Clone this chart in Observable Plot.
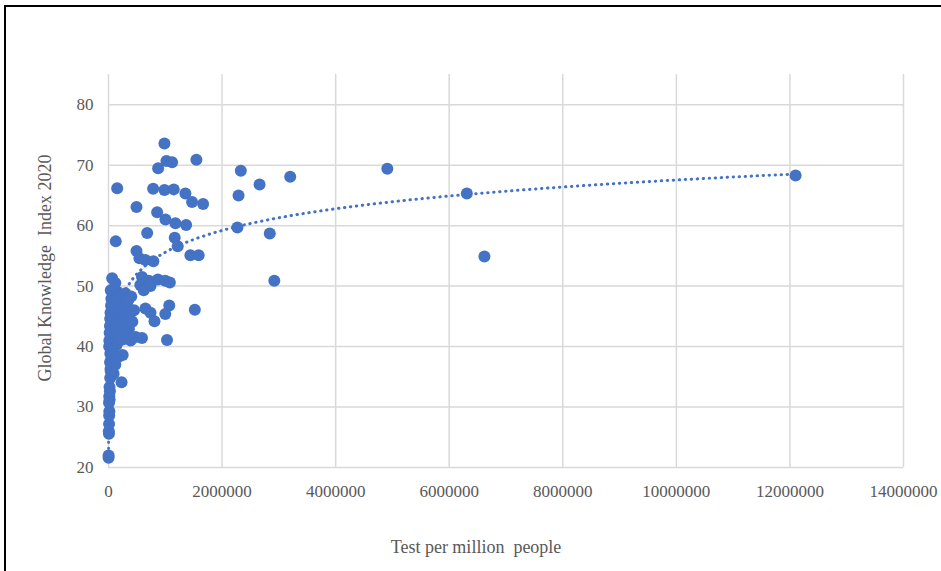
<!DOCTYPE html>
<html><head><meta charset="utf-8">
<script src="https://cdn.jsdelivr.net/npm/d3@7"></script>
<script src="https://cdn.jsdelivr.net/npm/@observablehq/plot@0.6"></script>
<style>
html,body{margin:0;padding:0;background:#fff;overflow:hidden;}
#wrap{position:relative;width:941px;height:571px;}
#frame{position:absolute;left:4px;top:5px;width:1000px;height:1000px;border-top:2px solid #000;border-left:2px solid #000;pointer-events:none;}
</style></head><body>
<div id="wrap"><div id="chart"></div><div id="frame"></div></div>
<script>
// Tests per million people (x) and Global Knowledge Index 2020 (y), one entry per country
const testsPerMillion = [
  12100000, 6310000, 6620000, 4910000, 3200000, 2660000, 2330000, 2290000, 2270000, 2840000, 2920000,
  1548000, 985000, 1020000, 1120000, 874000, 153000, 786000, 985000, 1149000, 1354000, 1472000, 1666000,
  493000, 857000, 1003000, 1179000, 1367000, 681000, 1166000, 1219000, 128000, 493000, 1442000, 1588000,
  545000, 650000, 790000,
  65000, 120000, 590000, 710000, 870000, 1000000, 1080000, 560000, 740000, 620000,
  650000, 740000, 810000, 1070000, 1000000, 1520000, 1030000, 590000, 390000,
  40000, 80000, 150000, 220000, 300000, 400000,
  50000, 110000, 190000, 270000, 350000,
  45000, 70000, 140000, 240000, 330000, 450000,
  35000, 100000, 170000, 260000, 380000,
  30000, 60000, 130000, 210000, 310000, 420000,
  25000, 90000, 160000, 280000, 360000,
  20000, 50000, 120000, 200000, 320000, 480000,
  15000, 100000, 180000, 260000,
  12000, 75000, 140000,
  1300, 1600, 8000, 6000, 10000, 12000, 15000, 9000, 20000, 14000, 25000, 18000,
  230000, 30000, 90000, 40000, 35000, 120000, 28000, 45000, 180000, 32000, 55000, 250000
];
const gkiIndex = [
  68.3, 65.3, 54.9, 69.4, 68.1, 66.8, 69.1, 65.0, 59.7, 58.7, 50.9,
  70.9, 73.6, 70.7, 70.5, 69.5, 66.2, 66.1, 65.9, 66.0, 65.3, 63.9, 63.6,
  63.1, 62.2, 61.0, 60.4, 60.1, 58.8, 58.0, 56.6, 57.4, 55.8, 55.1, 55.1,
  54.6, 54.3, 54.1,
  51.3, 50.5, 51.5, 50.9, 51.1, 50.9, 50.6, 50.2, 50.0, 49.3,
  46.3, 45.6, 44.2, 46.8, 45.4, 46.1, 41.1, 41.4, 41.0,
  49.3, 48.9, 49.1, 48.6, 48.8, 48.3,
  47.9, 47.6, 47.8, 47.3, 47.7,
  46.8, 46.5, 46.9, 46.2, 46.6, 46.0,
  45.6, 45.3, 45.7, 45.0, 45.4,
  44.6, 44.2, 44.5, 44.0, 44.3, 44.1,
  43.4, 43.1, 43.6, 43.0, 42.9,
  42.3, 42.0, 42.4, 41.8, 42.2, 41.6,
  41.0, 40.7, 40.9, 41.2,
  40.0, 39.7, 40.2,
  21.6, 22.0, 25.6, 26.0, 27.2, 28.6, 29.3, 30.7, 31.2, 31.8, 32.6, 33.3,
  34.1, 34.8, 35.5, 35.9, 36.3, 37.0, 37.4, 37.8, 38.3, 38.8, 39.2, 38.6
];
const xTicks = [0, 2000000, 4000000, 6000000, 8000000, 10000000, 12000000, 14000000];
const yTicks = [20, 30, 40, 50, 60, 70, 80];
const xTitle = "Test per million\u00a0 people";
const yTitle = "Global Knowledge\u00a0 Index 2020";

const points = testsPerMillion.map((x, i) => ({x, y: gkiIndex[i]}));

// Logarithmic trendline (least squares of y on ln x), as the spreadsheet computes it
const lx = points.map(p => Math.log(p.x));
const mx = d3.mean(lx), my = d3.mean(points, p => p.y);
const b = d3.sum(points, (p, i) => (lx[i] - mx) * (p.y - my)) / d3.sum(lx, v => (v - mx) ** 2);
const a = my - b * mx;
const xMin = d3.min(testsPerMillion), xMax = d3.max(testsPerMillion);
const trend = d3.range(400).map(k => {
  const x = xMin * Math.pow(xMax / xMin, k / 399);
  return {x, y: a + b * Math.log(x)};
});

const blue = "#4472C4";
const grid = "#d9d9d9";
const chart = Plot.plot({
  width: 941, height: 571,
  marginLeft: 108, marginRight: 38, marginTop: 74, marginBottom: 104,
  x: {domain: [0, 14000000]},
  y: {domain: [20, 85]},
  style: {fontFamily: "'Liberation Serif', 'Times New Roman', serif", fontSize: "17px", color: "#595959", background: "white"},
  marks: [
    Plot.gridX(xTicks, {stroke: grid, strokeOpacity: 1, strokeWidth: 1.5}),
    Plot.gridY(yTicks, {stroke: grid, strokeOpacity: 1, strokeWidth: 1.5}),
    Plot.axisX(xTicks, {tickSize: 0, tickPadding: 17, tickFormat: d3.format("d"), label: null}),
    Plot.axisY(yTicks, {tickSize: 0, tickPadding: 15, label: null}),
    Plot.dot(points, {x: "x", y: "y", r: 6, fill: blue}),
    Plot.line(trend, {x: "x", y: "y", stroke: blue, strokeWidth: 3, strokeLinecap: "round", strokeDasharray: "0.4,5.6"}),
    Plot.text([xTitle], {text: d => d, frameAnchor: "bottom", lineAnchor: "middle", dy: 80, dx: -30, fontSize: 18, fill: "#595959"}),
    Plot.text([yTitle], {text: d => d, frameAnchor: "left", textAnchor: "middle", lineAnchor: "middle", dx: -63, dy: -3, rotate: -90, fontSize: 18, fill: "#595959"})
  ]
});
document.getElementById("chart").appendChild(chart);
</script>
</body></html>
